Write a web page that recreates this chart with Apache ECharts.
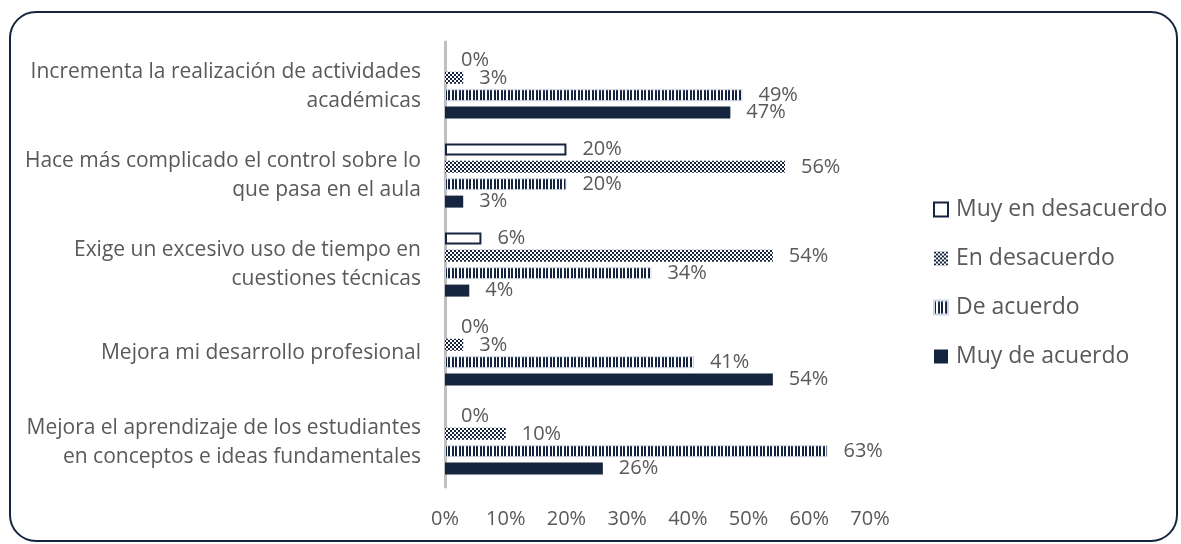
<!DOCTYPE html>
<html>
<head>
<meta charset="utf-8">
<script src="https://cdn.jsdelivr.net/npm/echarts@6/dist/echarts.min.js"></script>
<style>
  html, body { margin: 0; padding: 0; background: #ffffff; }
  #chart { width: 1181px; height: 544px; }
</style>
</head>
<body>
<div id="chart"></div>
<script>
// Survey statements (top to bottom)
const categories = [
  'Incrementa la realización de actividades\nacadémicas',
  'Hace más complicado el control sobre lo\nque pasa en el aula',
  'Exige un excesivo uso de tiempo en\ncuestiones técnicas',
  'Mejora mi desarrollo profesional',
  'Mejora el aprendizaje de los estudiantes\nen conceptos e ideas fundamentales'
];

// Share of answers per statement, in percent
const muyEnDesacuerdo = [0, 20, 6, 0, 0];
const enDesacuerdo    = [3, 56, 54, 3, 10];
const deAcuerdo       = [49, 20, 34, 41, 63];
const muyDeAcuerdo    = [47, 3, 4, 54, 26];

const seriesNames = ['Muy en desacuerdo', 'En desacuerdo', 'De acuerdo', 'Muy de acuerdo'];
const xTicks = [0, 10, 20, 30, 40, 50, 60, 70];

const NAVY = '#15253f';
const TEXT = '#595959';
const FONT = '"Open Sans", "Noto Sans", sans-serif';

// Small checkerboard tile
function checkerTile() {
  const c = document.createElement('canvas');
  c.width = 4; c.height = 4;
  const g = c.getContext('2d');
  g.fillStyle = '#ffffff'; g.fillRect(0, 0, 4, 4);
  g.fillStyle = NAVY;
  g.fillRect(0, 0, 2, 2);
  g.fillRect(2, 2, 2, 2);
  return c;
}

// Narrow vertical stripes tile
function stripeTile() {
  const c = document.createElement('canvas');
  c.width = 7; c.height = 4;
  const g = c.getContext('2d');
  g.fillStyle = '#ffffff'; g.fillRect(0, 0, 7, 4);
  g.fillStyle = NAVY;
  g.fillRect(0, 0, 2, 4);
  g.fillRect(4, 0, 2, 4);
  return c;
}

const styles = [
  { color: '#ffffff', borderColor: NAVY, borderWidth: 2 },
  { color: { image: checkerTile(), repeat: 'repeat' } },
  { color: { image: stripeTile(), repeat: 'repeat' }, borderColor: '#d0d8e4', borderWidth: 1 },
  { color: NAVY }
];
const values = [muyEnDesacuerdo, enDesacuerdo, deAcuerdo, muyDeAcuerdo];

const chart = echarts.init(document.getElementById('chart'), null, { renderer: 'canvas' });

const series = seriesNames.map((name, i) => ({
  name: name,
  type: 'bar',
  // empty bars get no outline so nothing shows at the axis
  data: values[i].map(v => v === 0 ? { value: v, itemStyle: { borderWidth: 0 } } : v),
  barWidth: 12,
  barGap: '45%',
  itemStyle: styles[i],
  label: {
    show: true,
    position: 'right',
    distance: 16,
    formatter: p => p.value + '%',
    color: TEXT,
    fontFamily: FONT,
    fontSize: 20
  }
}));

chart.setOption({
  animation: false,
  backgroundColor: '#ffffff',
  graphic: [{
    type: 'rect',
    shape: { x: 10, y: 12, width: 1167, height: 529, r: 26 },
    style: { fill: 'none', stroke: NAVY, lineWidth: 2 },
    silent: true,
    z: -1
  }],
  grid: { left: 445, top: 42, width: 425, height: 445, containLabel: false },
  legend: {
    orient: 'vertical',
    left: 933,
    top: 198,
    padding: 0,
    icon: 'rect',
    itemWidth: 14,
    itemHeight: 14,
    itemGap: 26,
    data: seriesNames,
    textStyle: { color: TEXT, fontFamily: FONT, fontSize: 23, lineHeight: 22, padding: [0, 0, 0, 3] }
  },
  xAxis: {
    type: 'value',
    min: 0,
    max: 70,
    interval: 10,
    axisLine: { show: false },
    axisTick: { show: false },
    splitLine: { show: false },
    axisLabel: {
      formatter: v => xTicks.includes(v) ? v + '%' : '',
      color: TEXT,
      fontFamily: FONT,
      fontSize: 20,
      margin: 22
    }
  },
  yAxis: {
    type: 'category',
    inverse: true,
    data: categories,
    axisLine: { show: true, lineStyle: { color: '#bfbfbf', width: 3 } },
    axisTick: { show: false },
    axisLabel: {
      color: TEXT,
      fontFamily: FONT,
      fontSize: 21,
      lineHeight: 29,
      margin: 24,
      align: 'right'
    }
  },
  series: series
});
</script>
</body>
</html>
